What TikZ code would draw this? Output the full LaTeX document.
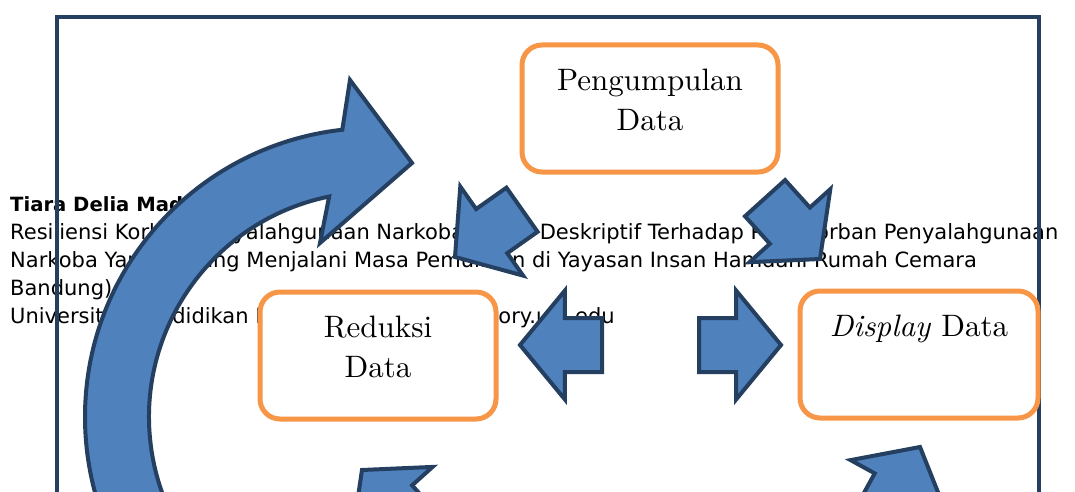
\documentclass[tikz,border=0pt]{standalone}
\usepackage{fontspec}
\usepackage{tikz}
\usetikzlibrary{positioning,shapes.arrows}
\newfontfamily\headerfont{DejaVu Sans}
\newfontfamily\boxfont{lmroman10}[Extension=.otf, UprightFont=*-regular, ItalicFont=*-italic]
\definecolor{arrowfill}{HTML}{4F81BD}
\definecolor{arrowline}{HTML}{243F60}
\definecolor{boxline}{HTML}{F79646}

\begin{document}
\begin{tikzpicture}[
  x=1pt, y=1pt,
  % Styles
  headtext/.style={font=\headerfont\fontsize{21}{28}\selectfont, align=left, inner sep=0pt, anchor=base west},
  databox/.style={draw=boxline, fill=white, line width=5pt, rounded corners=20pt, minimum height=127pt, outer sep=0pt},
  boxtext/.style={font=\boxfont\fontsize{31}{40}\selectfont, align=center, inner sep=0pt},
  blockarrow/.style={single arrow, draw=arrowline, fill=arrowfill, line width=4pt, minimum height=82pt, minimum width=105pt,
    single arrow head extend=27.5pt, single arrow tip angle=101, inner xsep=0pt, inner ysep=25pt, outer sep=0pt, anchor=tip},
  cyclearrow/.style={draw=arrowline, fill=arrowfill, line width=4pt},
  frameline/.style={draw=arrowline, line width=4pt},
  ]

\path[use as bounding box, fill=white] (0,0) rectangle (1075,491);
\clip (0,0) rectangle (1075,491);

%--- Page header behind the figure -----------------------------------
\node[headtext] (header) at (10,168) {{\fontsize{19.6}{28}\selectfont\bfseries Tiara Delia Madyo, 2013}\\
  Resiliensi Korban Penyalahgunaan Narkoba (Studi Deskriptif Terhadap Para Korban Penyalahgunaan\\
  Narkoba Yang Sedang Menjalani Masa Pemulihan di Yayasan Insan Hamdani Rumah Cemara\\
  Bandung)\\
  Universitas Pendidikan Indonesia\hspace{1.48em}|\hspace{1.48em}repository.upi.edu};

%--- Frame ------------------------------------------------------------
\draw[frameline] (57,474) rectangle (1039,-20);

%--- Circular arrow ---------------------------------------------------
\coordinate (loopcenter) at (374,74);
\draw[cyclearrow] ([shift={(230:289)}]loopcenter) arc[start angle=230, end angle=96.3, radius=289]
  -- (350,411) -- (412,328) -- (320,248)
  -- ([shift={(101.5:225)}]loopcenter) arc[start angle=101.5, end angle=230, radius=225] -- cycle;

%--- Block arrows -----------------------------------------------------
\node[blockarrow, rotate=215.2] (pengtored) at (455,234) {};
\node[blockarrow, rotate=-47.9] (pengtodisp) at (820,232) {};
\node[blockarrow, rotate=180] (toreduksi) at (520,146) {};
\node[blockarrow] (todisplay) at (781,146) {};
\node[blockarrow, rotate=132] (fromlowleft) at (362,21) {};
\node[blockarrow, rotate=61.2] (fromlowright) at (920,44) {};

%--- Boxes ------------------------------------------------------------
\node[databox, minimum width=256pt] (pengumpulan) at (650,382.5) {};
\node[databox, minimum width=236pt, below left=120pt and 26pt of pengumpulan] (reduksi) {};
\node[databox, minimum width=238pt, below right=119pt and 22pt of pengumpulan] (display) {};

% Box texts
\node[boxtext, below=23.5pt of pengumpulan.north] (pengumpulantext) {Pengumpulan\\Data};
\node[boxtext, below=23.5pt of reduksi.north] (reduksitext) {Reduksi\\Data};
\node[boxtext, below=23.5pt of display.north] (displaytext) {\textit{Display} Data};

\end{tikzpicture}
\end{document}
